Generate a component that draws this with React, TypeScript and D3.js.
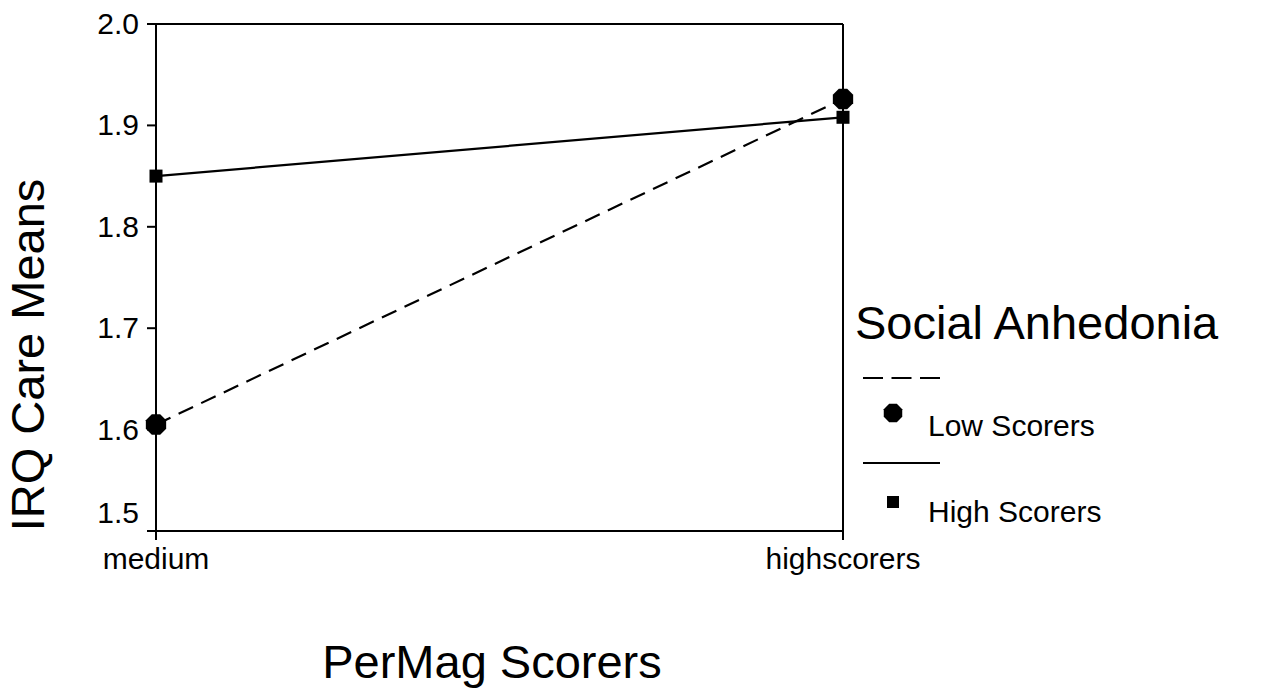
import React from "react";
import * as d3 from "d3";

const categories = ["medium", "highscorers"];
const lowScorers = [1.605, 1.926];
const highScorers = [1.85, 1.908];
const yTicks = [1.5, 1.6, 1.7, 1.8, 1.9, 2.0];

const W = 1263;
const H = 690;
const FONT = "Arial, 'Liberation Sans', Helvetica, sans-serif";

export default function App() {
  const x = d3.scalePoint<string>().domain(categories).range([156, 843]).padding(0);
  const y = d3.scaleLinear().domain([1.5, 2.0]).range([531, 24]);
  const line = d3
    .line<number>()
    .x((_, i) => x(categories[i]) as number)
    .y((d) => y(d));

  const octagon = (cx: number, cy: number, r: number) => {
    const pts = d3.range(8).map((k) => {
      const a = Math.PI / 8 + (k * Math.PI) / 4;
      return [cx + r * Math.cos(a), cy + r * Math.sin(a)];
    });
    return "M" + pts.map((p) => p.join(",")).join("L") + "Z";
  };

  const x0 = x(categories[0]) as number;
  const x1 = x(categories[1]) as number;
  const yTop = y(2.0);
  const yBot = y(1.5);
  const sq = 13;

  return (
    <svg width={W} height={H} style={{ position: "absolute", left: 0, top: 0, background: "#fff" }} fontFamily={FONT}>
      <rect width={W} height={H} fill="#fff" />
      {/* frame */}
      <g stroke="#000" strokeWidth={2} fill="none">
        <line x1={x0 - 9} y1={yTop} x2={x1} y2={yTop} />
        <line x1={x0 - 9} y1={yBot} x2={x1} y2={yBot} />
        <line x1={x0} y1={yTop} x2={x0} y2={yBot + 9} />
        <line x1={x1} y1={yTop} x2={x1} y2={yBot + 9} />
        {yTicks.map((t) => (
          <line key={t} x1={x0 - 9} y1={y(t)} x2={x0} y2={y(t)} />
        ))}
      </g>
      {/* y tick labels (lowest one raised to clear the category label) */}
      {yTicks.map((t, i) => (
        <text key={t} x={x0 - 17} y={i === 0 ? y(t) - 8 : y(t) + 10} fontSize={30} textAnchor="end" fill="#000">
          {t.toFixed(1)}
        </text>
      ))}
      {/* x tick labels */}
      {categories.map((c) => (
        <text key={c} x={x(c) as number} y={569} fontSize={30} textAnchor="middle" fill="#000">
          {c}
        </text>
      ))}
      {/* series lines */}
      <path d={line(highScorers) as string} stroke="#000" strokeWidth={2.2} fill="none" />
      <path d={line(lowScorers) as string} stroke="#000" strokeWidth={2.2} strokeDasharray="16,9" fill="none" />
      {/* markers */}
      {highScorers.map((v, i) => (
        <rect
          key={"h" + i}
          x={(x(categories[i]) as number) - sq / 2}
          y={y(v) - sq / 2}
          width={sq}
          height={sq}
          fill="#000"
        />
      ))}
      {lowScorers.map((v, i) => (
        <path key={"l" + i} d={octagon(x(categories[i]) as number, y(v), 11)} fill="#000" />
      ))}
      {/* axis titles */}
      <text transform={`translate(44,355) rotate(-90)`} fontSize={47} textAnchor="middle" fill="#000">
        IRQ Care Means
      </text>
      <text x={492} y={678} fontSize={47} textAnchor="middle" fill="#000">
        PerMag Scorers
      </text>
      {/* legend */}
      <text x={855} y={339} fontSize={47} fill="#000">
        Social Anhedonia
      </text>
      <line x1={863} y1={378} x2={940} y2={378} stroke="#000" strokeWidth={2} strokeDasharray="20,8.5" />
      <path d={octagon(893, 413, 10)} fill="#000" />
      <text x={928} y={436} fontSize={30} fill="#000">
        Low Scorers
      </text>
      <line x1={863} y1={463} x2={940} y2={463} stroke="#000" strokeWidth={2} />
      <rect x={893 - 6} y={502 - 6} width={12} height={12} fill="#000" />
      <text x={928} y={522} fontSize={30} fill="#000">
        High Scorers
      </text>
    </svg>
  );
}
